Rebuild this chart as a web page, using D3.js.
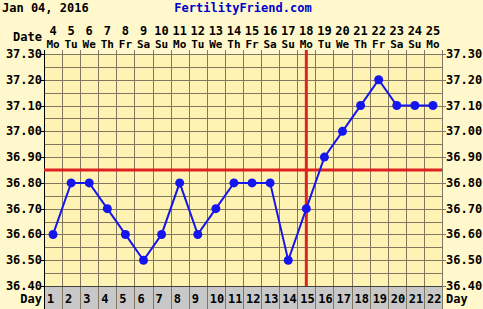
<!DOCTYPE html>
<html>
<head>
<meta charset="utf-8">
<script src="https://cdn.jsdelivr.net/npm/d3@7"></script>
<style>
  body { margin: 0; background: #fff8cc; }
  text { font-family: "DejaVu Sans Mono", monospace; font-weight: bold; font-size: 12px; }
  text.wd { font-size: 11px; }
</style>
</head>
<body>
<div class="chart"></div>
<script>
// data
const cycleDays = d3.range(1, 23);
const dates = [4,5,6,7,8,9,10,11,12,13,14,15,16,17,18,19,20,21,22,23,24,25];
const weekdays = ["Mo","Tu","We","Th","Fr","Sa","Su","Mo","Tu","We","Th","Fr","Sa","Su","Mo","Tu","We","Th","Fr","Sa","Su","Mo"];
const temps = [36.60,36.80,36.80,36.70,36.60,36.50,36.60,36.80,36.60,36.70,36.80,36.80,36.80,36.50,36.70,36.90,37.00,37.10,37.20,37.10,37.10,37.10];
const tempTicks = [36.40,36.50,36.60,36.70,36.80,36.90,37.00,37.10,37.20,37.30];
const coverline = 36.85;
const ovulationDay = 15;

const W = 483, H = 309;
const pLeft = 44, pRight = 442, pTop = 54, pBottom = 286;

const svg = d3.select('.chart').append('svg')
    .attr('width', W).attr('height', H);

svg.append('rect').attr('width', W).attr('height', H).attr('fill', '#fff8cc');

const x = d3.scaleBand().domain(cycleDays).range([pLeft, pRight]);
const y = d3.scaleLinear().domain([36.4, 37.3]).range([pBottom, pTop]);
const cx = d => x(d) + x.bandwidth() / 2;
const px = v => Math.round(v) + 0.5;

// plot background
svg.append('rect')
    .attr('x', pLeft).attr('y', pTop)
    .attr('width', pRight - pLeft).attr('height', pBottom - pTop)
    .attr('fill', '#fff3b3');

// horizontal grid every 0.05
const hLines = d3.range(0, 19).map(i => 36.4 + i * 0.05);
svg.append('g').selectAll('line').data(hLines).join('line')
    .attr('x1', pLeft).attr('x2', pRight)
    .attr('y1', d => px(y(d))).attr('y2', d => px(y(d)))
    .attr('stroke', '#807860');

// vertical grid at column edges
const edges = cycleDays.slice(1).map(d => x(d));
svg.append('g').selectAll('line').data(edges).join('line')
    .attr('x1', d => px(d)).attr('x2', d => px(d))
    .attr('y1', pTop - 4).attr('y2', pBottom)
    .attr('stroke', '#807860');

// right border
svg.append('line')
    .attr('x1', px(pRight)).attr('x2', px(pRight))
    .attr('y1', pTop - 4).attr('y2', H)
    .attr('stroke', '#807860');

// day row
svg.append('rect')
    .attr('x', pLeft).attr('y', pBottom)
    .attr('width', pRight - pLeft).attr('height', H - pBottom)
    .attr('fill', '#c8c8c8');
svg.append('g').selectAll('line').data(edges).join('line')
    .attr('x1', d => px(d)).attr('x2', d => px(d))
    .attr('y1', pBottom).attr('y2', H)
    .attr('stroke', '#807860');
svg.append('line')
    .attr('x1', pLeft).attr('x2', pRight)
    .attr('y1', px(pBottom)).attr('y2', px(pBottom))
    .attr('stroke', '#404040');

// left axis line + ticks
svg.append('line')
    .attr('x1', px(pLeft)).attr('x2', px(pLeft))
    .attr('y1', pTop - 4).attr('y2', H)
    .attr('stroke', '#000');
svg.append('g').selectAll('line').data(tempTicks).join('line')
    .attr('x1', pLeft - 3).attr('x2', pLeft)
    .attr('y1', d => px(y(d))).attr('y2', d => px(y(d)))
    .attr('stroke', '#000');
svg.append('g').selectAll('line').data(tempTicks).join('line')
    .attr('x1', pRight).attr('x2', pRight + 4)
    .attr('y1', d => px(y(d))).attr('y2', d => px(y(d)))
    .attr('stroke', '#807860');

// temp labels
svg.append('g').selectAll('text').data(tempTicks).join('text')
    .attr('x', pLeft - 2).attr('y', d => y(d) + 4)
    .attr('text-anchor', 'end')
    .text(d => d.toFixed(2));
svg.append('g').selectAll('text').data(tempTicks).join('text')
    .attr('x', pRight + 4).attr('y', d => y(d) + 4)
    .text(d => d.toFixed(2));

// coverline and ovulation line
svg.append('line')
    .attr('x1', pLeft).attr('x2', pRight)
    .attr('y1', y(coverline)).attr('y2', y(coverline))
    .attr('stroke', '#dd2222').attr('stroke-width', 3);
svg.append('line')
    .attr('x1', cx(ovulationDay)).attr('x2', cx(ovulationDay))
    .attr('y1', pTop - 4).attr('y2', pBottom)
    .attr('stroke', '#dd2222').attr('stroke-width', 3);

// temperature line
const pts = cycleDays.map((d, i) => ({day: d, t: temps[i]}));
svg.append('path')
    .datum(pts)
    .attr('fill', 'none')
    .attr('stroke', '#1515ee').attr('stroke-width', 2)
    .attr('d', d3.line().x(d => cx(d.day)).y(d => y(d.t)));
svg.append('g').selectAll('circle').data(pts).join('circle')
    .attr('cx', d => cx(d.day))
    .attr('cy', d => y(d.t))
    .attr('r', 4.5)
    .attr('fill', '#1515ee');

// header
svg.append('text').attr('x', 2).attr('y', 12).text('Jan 04, 2016');
svg.append('text').attr('x', 243).attr('y', 12).attr('text-anchor', 'middle')
    .attr('fill', '#0000cc').text('FertilityFriend.com');
svg.append('text').attr('x', pLeft - 2).attr('y', 41).attr('text-anchor', 'end').text('Date');
svg.append('g').selectAll('text').data(cycleDays).join('text')
    .attr('x', d => cx(d)).attr('y', 35)
    .attr('text-anchor', 'middle')
    .text((d, i) => dates[i]);
svg.append('g').selectAll('text').data(cycleDays).join('text')
    .attr('class', 'wd')
    .attr('x', d => cx(d)).attr('y', 48)
    .attr('text-anchor', 'middle')
    .text((d, i) => weekdays[i]);

// day labels
svg.append('g').selectAll('text').data(cycleDays).join('text')
    .attr('x', d => x(d) + 3).attr('y', 303)
    .text(d => d);
svg.append('text').attr('x', pLeft - 2).attr('y', 303).attr('text-anchor', 'end').text('Day');
svg.append('text').attr('x', pRight + 4).attr('y', 303).text('Day');
</script>
</body>
</html>
